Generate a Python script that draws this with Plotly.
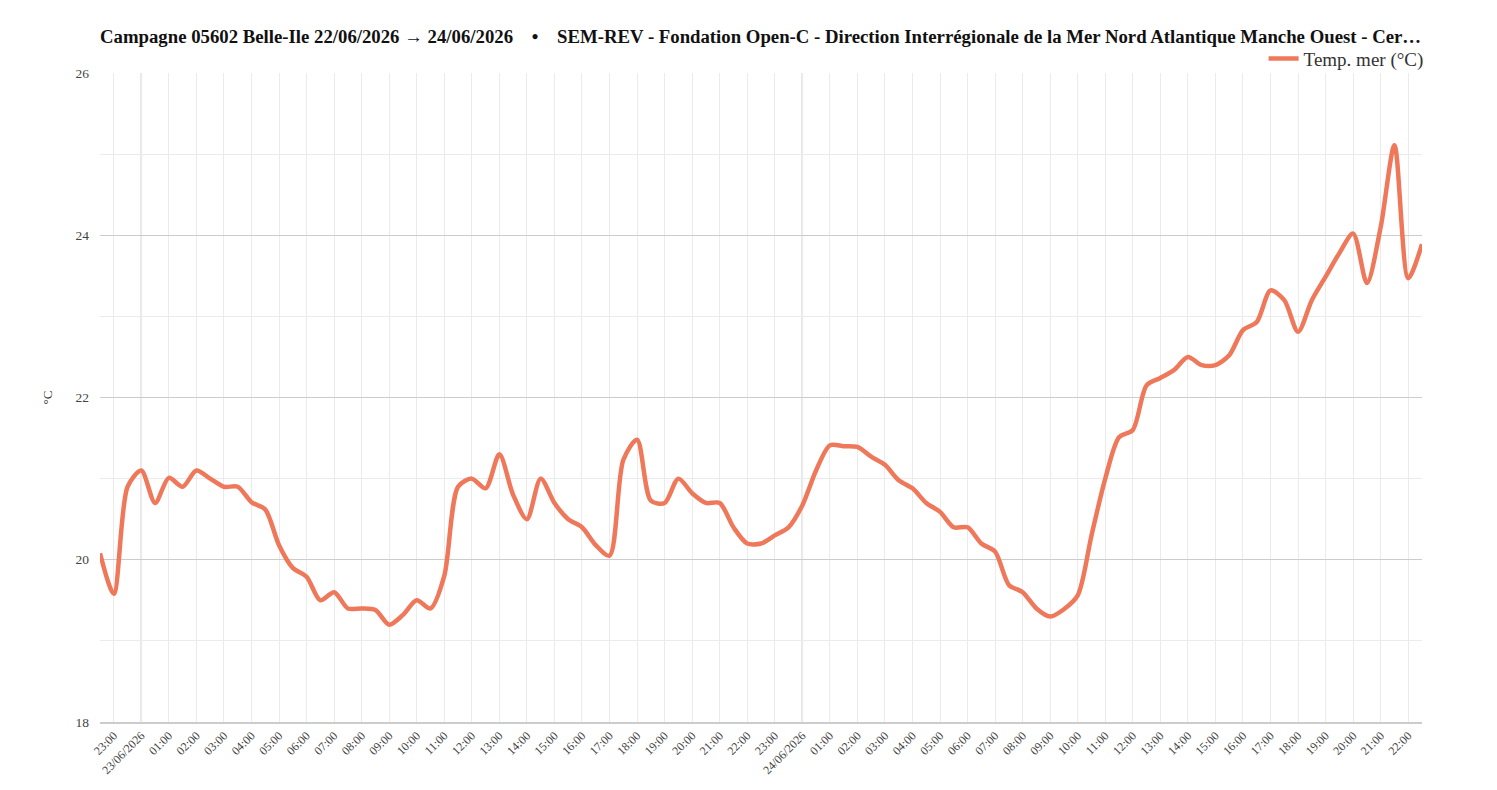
import pandas as pd
import plotly.graph_objects as go

# sea temperature, one reading every 30 min from 22/06/2026 22:30
start = "2026-06-22 22:30"
temp_mer = [
    20.08, 19.58, 20.90, 21.10, 20.70, 21.01, 20.90, 21.10, 21.00, 20.90,
    20.90, 20.71, 20.62, 20.18, 19.90, 19.79, 19.50, 19.60, 19.40, 19.40,
    19.38, 19.20, 19.32, 19.50, 19.40, 19.80, 20.90, 21.00, 20.88, 21.30,
    20.80, 20.50, 21.00, 20.70, 20.50, 20.40, 20.18, 20.05, 21.23, 21.48,
    20.73, 20.70, 21.00, 20.82, 20.70, 20.70, 20.40, 20.20, 20.20, 20.30,
    20.40, 20.67, 21.10, 21.41, 21.40, 21.39, 21.27, 21.17, 20.98, 20.88,
    20.70, 20.59, 20.40, 20.40, 20.20, 20.10, 19.69, 19.60, 19.40, 19.30,
    19.39, 19.56, 20.30, 21.00, 21.51, 21.60, 22.15, 22.24, 22.34, 22.50,
    22.40, 22.40, 22.52, 22.83, 22.93, 23.32, 23.20, 22.81, 23.20, 23.49,
    23.78, 24.02, 23.41, 24.10, 25.11, 23.47, 23.89,
]
times = pd.date_range(start, periods=len(temp_mer), freq="30min")

# hourly ticks, midnight shows the date
tick_hours = pd.date_range("2026-06-22 23:00", "2026-06-24 22:00", freq="1h")
tick_text = [t.strftime("%d/%m/%Y") if t.hour == 0 else t.strftime("%H:00") for t in tick_hours]
midnights = ["2026-06-23 00:00", "2026-06-24 00:00"]

sep = "&nbsp;" * 4 + "\u2022" + "&nbsp;" * 4
title_txt = ("Campagne 05602 Belle-Ile 22/06/2026 \u2192 24/06/2026" + sep +
             "SEM-REV - Fondation Open-C - Direction Interr\u00e9gionale de la Mer Nord Atlantique "
             "Manche Ouest - Cer\u2026")

W, H = 1481, 774  # page body has an 8px margin

fig = go.Figure()
fig.add_trace(go.Scatter(x=times, y=temp_mer, mode="lines", name="Temp. mer (\u00b0C)",
                         line=dict(color="#f0785a", width=4.5, shape="spline", smoothing=0.8)))

for m in midnights:
    fig.add_vline(x=pd.Timestamp(m).timestamp() * 1000, line=dict(color="#cccccc", width=1.5), layer="below")

fig.update_layout(
    width=W, height=H,
    margin=dict(l=92, r=67, t=65, b=60),
    paper_bgcolor="white", plot_bgcolor="white",
    font=dict(family="Liberation Serif, Times New Roman, serif", color="#333"),
    title=dict(text="<b>" + title_txt + "</b>", x=0, xref="paper", xanchor="left",
               y=1 - 28 / H, yanchor="middle", font=dict(size=18.75, color="#111")),
    showlegend=True,
    legend=dict(x=1.005, xanchor="right", y=0.993, yanchor="bottom", bgcolor="rgba(0,0,0,0)",
                font=dict(size=19, color="#333"), itemwidth=30),
    xaxis=dict(range=[times[0], times[-1]], tickvals=tick_hours, ticktext=tick_text,
               tickangle=-45, tickfont=dict(size=12, color="#444"), automargin=False,
               showgrid=True, gridcolor="#ebebeb", gridwidth=1,
               showline=True, linecolor="#cccccc", linewidth=1.5, zeroline=False, ticks=""),
    yaxis=dict(range=[18, 26], dtick=2, tickfont=dict(size=13.5, color="#444"),
               showgrid=True, gridcolor="#cccccc", gridwidth=1, zeroline=False, ticks="",
               ticklabelstandoff=10, automargin=False,
               minor=dict(dtick=1, showgrid=True, gridcolor="#ebebeb"),
               title=dict(text="\u00b0C", font=dict(size=13, color="#333"), standoff=19)),
)

fig.write_html("out.html")
